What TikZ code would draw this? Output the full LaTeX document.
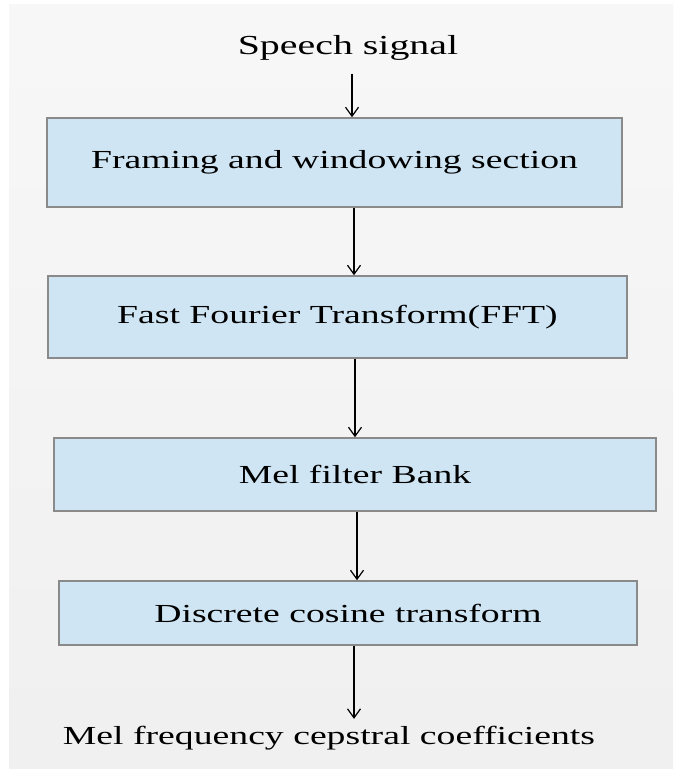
\documentclass[tikz,border=0pt]{standalone}
\usepackage{fontspec}
\setmainfont[FakeStretch=1.45]{Liberation Serif}
\usetikzlibrary{arrows.meta}
\definecolor{stageblue}{RGB}{207,229,243}
\definecolor{stageedge}{RGB}{138,138,138}
\tikzstyle{stage}=[draw=stageedge,line width=1.5pt,fill=stageblue,inner sep=0pt,font=\fontsize{26}{30}\selectfont]
\tikzstyle{endtext}=[inner sep=4pt,font=\fontsize{26}{30}\selectfont]
\tikzstyle{flow}=[draw=black,line width=1.2pt,-{Straight Barb[length=9pt,width=13pt,line width=1.2pt]}]

\begin{document}
\begin{tikzpicture}[x=1pt,y=-1pt]
	\useasboundingbox (0,0) rectangle (673,769);
	\fill[white] (0,0) rectangle (673,769);
	\shade[top color=black!3,bottom color=black!6] (9,4) rectangle (673,769);
	% input and output
	\node[endtext,font=\fontsize{27.5}{30}\selectfont] (speech) at (348,48) {Speech signal};
	\node[endtext] (mfcc) at (329,738) {Mel frequency cepstral coefficients};
	% stages
	\node[stage,minimum width=575pt,minimum height=89pt] (framing) at (334.5,162.5) {Framing and windowing section};
	\node[stage,minimum width=579pt,minimum height=82pt] (fft) at (337.5,317) {Fast Fourier Transform(FFT)};
	\node[stage,minimum width=602pt,minimum height=73pt] (melbank) at (355,474.5) {Mel filter Bank};
	\node[stage,minimum width=578pt,minimum height=64pt] (dct) at (348,613) {Discrete cosine transform};
	% connectors
	\draw[flow,shorten <=9pt] (speech.south -| 352,0) -- (framing.north -| 352,0);
	\draw[flow] (framing.south -| 354,0) -- (fft.north -| 354,0);
	\draw[flow] (fft.south -| 355,0) -- (melbank.north -| 355,0);
	\draw[flow] (melbank.south -| 357,0) -- (dct.north -| 357,0);
	\draw[flow,shorten >=3pt] (dct.south -| 354,0) -- (mfcc.north -| 354,0);
\end{tikzpicture}
\end{document}
